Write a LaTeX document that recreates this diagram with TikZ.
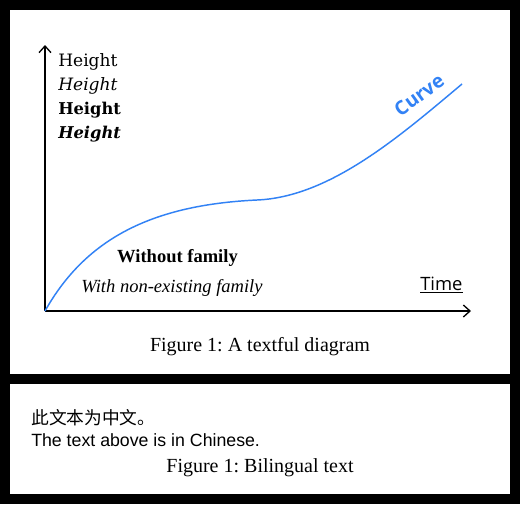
\documentclass[tikz,border=0pt]{standalone}
\usepackage{fontspec}
\setmainfont{Liberation Serif}
\newfontfamily\hfont{DejaVu Serif}
\newfontfamily\osans{Open Sans}
\newfontfamily\cjk{Noto Sans CJK SC}
\newfontfamily\arialf{Liberation Sans}
\usetikzlibrary{arrows.meta}
\definecolor{curveblue}{RGB}{50,130,245}
\frenchspacing
\begin{document}
\begin{tikzpicture}[x=0.75pt,y=-0.75pt,
  axis/.style={line width=1pt,-{Straight Barb[length=5pt,width=9pt,line width=1pt]}},
  htext/.style={anchor=base west,inner sep=0pt,font=\hfont\fontsize{12.8pt}{15pt}\selectfont},
  captxt/.style={inner sep=0pt,font=\fontsize{15pt}{18pt}\selectfont},
  lbl/.style={inner sep=0pt,font=\fontsize{13.9pt}{16pt}\selectfont}]
\useasboundingbox (0,0) rectangle (520,504);
\fill[black] (0,0) rectangle (520,504);
\fill[white] (10,10) rectangle (510,374);
\fill[white] (10,384) rectangle (510,494);
% axes
\coordinate (o) at (45,311);
\coordinate (ytop) at (45,45);
\coordinate (xend) at (471,311);
\draw[axis] (o) -- (ytop);
\draw[axis] (o) -- (xend);
% curve
\coordinate (cmid) at (257,200);
\coordinate (cend) at (462,84);
\draw[curveblue,line width=1.1pt] (o) .. controls (85,240) and (150,205) .. (cmid)
  .. controls (330,197) and (400,136) .. (cend);
% height labels
\node[htext] (h1) at (58,66) {Height};
\node[htext] (h2) at (58,90) {\itshape Height};
\node[htext,font=\hfont\bfseries\fontsize{12.2pt}{15pt}\selectfont] (h3) at (58,114) {Height};
\node[htext,font=\hfont\bfseries\itshape\fontsize{12.2pt}{15pt}\selectfont] (h4) at (58,138) {Height};
% curve label
\node[rotate=36,inner sep=0pt,text=curveblue,font=\osans\bfseries\fontsize{14.5pt}{16pt}\selectfont] (cv) at (419,95) {Curve};
% time
\node[anchor=base west,inner sep=0pt,font=\osans\fontsize{13.8pt}{15pt}\selectfont] (tm) at (420,290) {\underline{Time}};
% family labels
\node[lbl,font=\bfseries\fontsize{13.9pt}{16pt}\selectfont] (wf) at (177.5,258) {Without family};
\node[lbl,font=\itshape\fontsize{13.9pt}{16pt}\selectfont] (wn) at (172,288) {With non-existing family};
% caption 1
\node[captxt] (cap1) at (260,347) {Figure 1: A textful diagram};
% bottom panel
\node[anchor=base west,inner sep=0pt,font=\cjk\fontsize{13.3pt}{15pt}\selectfont] (zh) at (31,424) {此文本为中文。};
\node[anchor=base west,inner sep=0pt,font=\arialf\fontsize{13.3pt}{15pt}\selectfont] (en) at (31,446) {The text above is in Chinese.};
\node[captxt] (cap2) at (260,468) {Figure 1: Bilingual text};
\end{tikzpicture}
\end{document}
